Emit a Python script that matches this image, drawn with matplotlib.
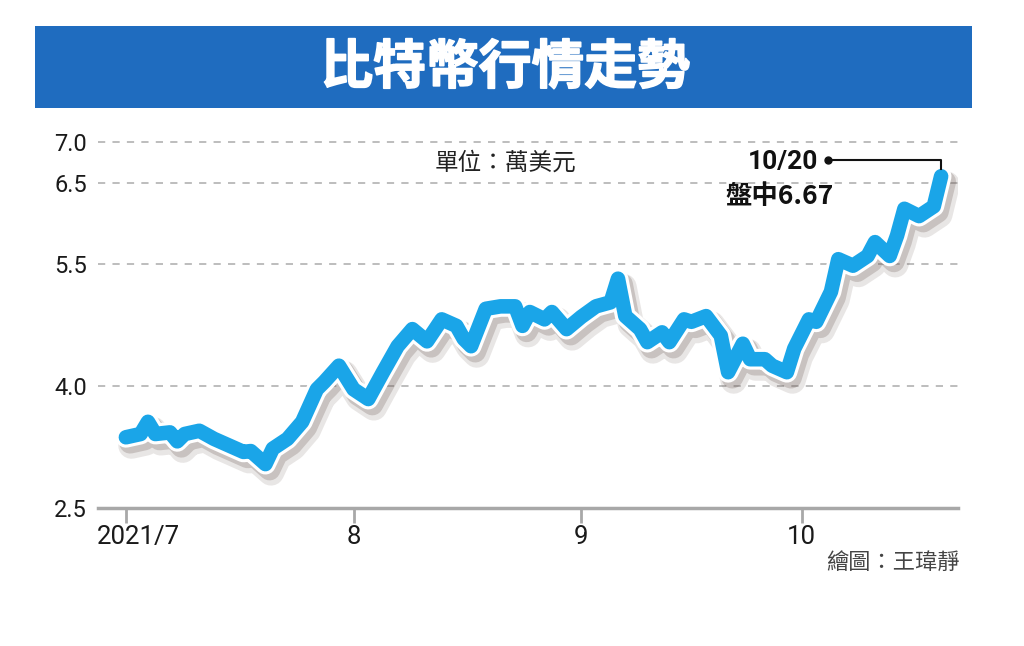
import matplotlib
matplotlib.use("Agg")
import matplotlib.pyplot as plt
import matplotlib.patheffects as pe
import matplotlib.dates as mdates
from matplotlib.patches import Rectangle
from matplotlib.transforms import blended_transform_factory, ScaledTranslation
import pandas as pd

# ---- data (萬美元) ----
dates = ["2021-07-01", "2021-07-03", "2021-07-04", "2021-07-05", "2021-07-07", "2021-07-08",
         "2021-07-09", "2021-07-11", "2021-07-13", "2021-07-14", "2021-07-16", "2021-07-17",
         "2021-07-18", "2021-07-20", "2021-07-21", "2021-07-23", "2021-07-25", "2021-07-27",
         "2021-07-28", "2021-07-30", "2021-08-01", "2021-08-03", "2021-08-05", "2021-08-07",
         "2021-08-09", "2021-08-11", "2021-08-13", "2021-08-15", "2021-08-16", "2021-08-17",
         "2021-08-19", "2021-08-21", "2021-08-23", "2021-08-24", "2021-08-25", "2021-08-27",
         "2021-08-28", "2021-08-30", "2021-09-01", "2021-09-03", "2021-09-05", "2021-09-06",
         "2021-09-07", "2021-09-09", "2021-09-10", "2021-09-12", "2021-09-13", "2021-09-15",
         "2021-09-16", "2021-09-18", "2021-09-20", "2021-09-21", "2021-09-23", "2021-09-24",
         "2021-09-26", "2021-09-27", "2021-09-29", "2021-09-30", "2021-10-02", "2021-10-03",
         "2021-10-05", "2021-10-06", "2021-10-08", "2021-10-10", "2021-10-11", "2021-10-13",
         "2021-10-14", "2021-10-15", "2021-10-17", "2021-10-19", "2021-10-20"]
prices = [3.37, 3.41, 3.56, 3.41, 3.43, 3.32,
          3.41, 3.45, 3.35, 3.31, 3.23, 3.19,
          3.20, 3.04, 3.23, 3.35, 3.56, 3.96,
          4.05, 4.25, 3.96, 3.84, 4.17, 4.49,
          4.70, 4.55, 4.82, 4.74, 4.58, 4.49,
          4.95, 4.98, 4.98, 4.74, 4.91, 4.82,
          4.91, 4.70, 4.85, 4.98, 5.03, 5.32,
          4.86, 4.70, 4.54, 4.66, 4.54, 4.82,
          4.79, 4.86, 4.62, 4.17, 4.52, 4.33,
          4.33, 4.25, 4.17, 4.46, 4.82, 4.79,
          5.16, 5.56, 5.48, 5.60, 5.77, 5.60,
          5.85, 6.18, 6.09, 6.21, 6.58]

y_ticks = [2.5, 4.0, 5.5, 6.5, 7.0]
y_tick_labels = ["2.5", "4.0", "5.5", "6.5", "7.0"]
x_tick_dates = ["2021-07-01", "2021-08-01", "2021-09-01", "2021-10-01"]
x_tick_labels = ["2021/7", "8", "9", "10"]

title = "比特幣行情走勢"
unit_text = "單位：萬美元"
credit_text = "繪圖：王瑋靜"
ann_date = "10/20"
ann_text = "盤中6.67"

# ---- figure ----
W, H = 1024, 646
fig = plt.figure(figsize=(W / 100, H / 100), dpi=100)
fig.patch.set_facecolor("white")

def fx(px):
    return px / W

def fy(py):
    return 1 - py / H

# banner
fig.patches.append(Rectangle((fx(35), fy(108)), fx(972) - fx(35), fy(26) - fy(108),
                             transform=fig.transFigure, facecolor="#1f6cbf",
                             edgecolor="none", zorder=0))
fig.text(fx(505), fy(68), title, color="white", fontsize=38, fontweight="heavy",
         family=["Noto Sans CJK TC"], ha="center", va="center",
         path_effects=[pe.Stroke(linewidth=1.2, foreground="white"), pe.Normal()])

ax = fig.add_axes([fx(98), fy(508), fx(958) - fx(98), fy(123) - fy(508)])
ax.set_facecolor("none")

x = pd.to_datetime(dates)
ax.plot(x, prices, color="#1aa5e8", lw=10.5, solid_capstyle="round",
        solid_joinstyle="round", zorder=5,
        path_effects=[
            pe.SimpleLineShadow(offset=(4, -6), shadow_color="#6a5852", alpha=0.15,
                                linewidth=19),
            pe.SimpleLineShadow(offset=(3, -4), shadow_color="#6a5852", alpha=0.25,
                                linewidth=15.5),
            pe.Stroke(linewidth=15, foreground="white"),
            pe.Normal()])

ax.set_ylim(2.5, 7.235)
x0 = pd.Timestamp("2021-07-01")
ax.set_xlim(x0 - pd.Timedelta(days=3.8), x0 + pd.Timedelta(days=113.3))

# grid lines
for v in y_ticks[1:]:
    ax.axhline(v, color="#b8b8b8", lw=1.3, ls=(0, (4, 4)), zorder=1)

ax.set_yticks(y_ticks)
ax.set_yticklabels(y_tick_labels, fontsize=17, family=["Roboto", "DejaVu Sans"],
                   color="#1a1a1a")
ax.tick_params(axis="y", length=0, pad=8)

xt = pd.to_datetime(x_tick_dates)
ax.set_xticks(xt)
ax.set_xticklabels([])
ax.tick_params(axis="x", length=11, width=2, color="#a8a8a8", direction="out")

trans = blended_transform_factory(ax.transData, ax.transAxes)
for i, (d, lab) in enumerate(zip(xt, x_tick_labels)):
    off = ScaledTranslation(13 / 100 if i == 0 else 0, 0, fig.dpi_scale_trans)
    ax.text(mdates.date2num(d), -0.075, lab, transform=trans + off, ha="center",
            va="center", fontsize=18.5, family=["Roboto", "DejaVu Sans"],
            color="#1a1a1a")

for s in ["top", "right", "left"]:
    ax.spines[s].set_visible(False)
ax.spines["bottom"].set_color("#a8a8a8")
ax.spines["bottom"].set_linewidth(2.5)

# texts
fig.text(fx(505), fy(163), unit_text, fontsize=17, family=["Noto Sans CJK TC"],
         color="#222222", ha="center", va="center")
fig.text(fx(960), fy(562), credit_text, fontsize=16, family=["Noto Sans CJK TC"],
         color="#444444", ha="right", va="center")

# annotation
last_x = mdates.date2num(x[-1])
last_y = prices[-1]
fig.text(fx(818), fy(162), ann_date, fontsize=19, fontweight="bold",
         family=["Roboto", "Noto Sans CJK TC"], color="#111111", ha="right", va="center")
fig.text(fx(834), fy(197), ann_text, fontsize=19, fontweight="bold",
         family=["Noto Sans CJK TC"], color="#111111", ha="right", va="center")
# leader line: dot -> right -> down to last point
px_last, py_last = ax.transData.transform((last_x, last_y))
line_y = fy(160)
ax_fig = fig.transFigure.inverted()
lx, ly = ax_fig.transform((px_last, py_last))
fig.lines.append(plt.Line2D([fx(828), lx, lx], [line_y, line_y, ly + 0.012],
                            transform=fig.transFigure, color="#111111", lw=1.5,
                            zorder=10))
fig.lines.append(plt.Line2D([fx(828)], [line_y], marker="o", ms=5,
                            color="#111111", transform=fig.transFigure, zorder=10))

fig.savefig("out.png", dpi=100, facecolor="white")
